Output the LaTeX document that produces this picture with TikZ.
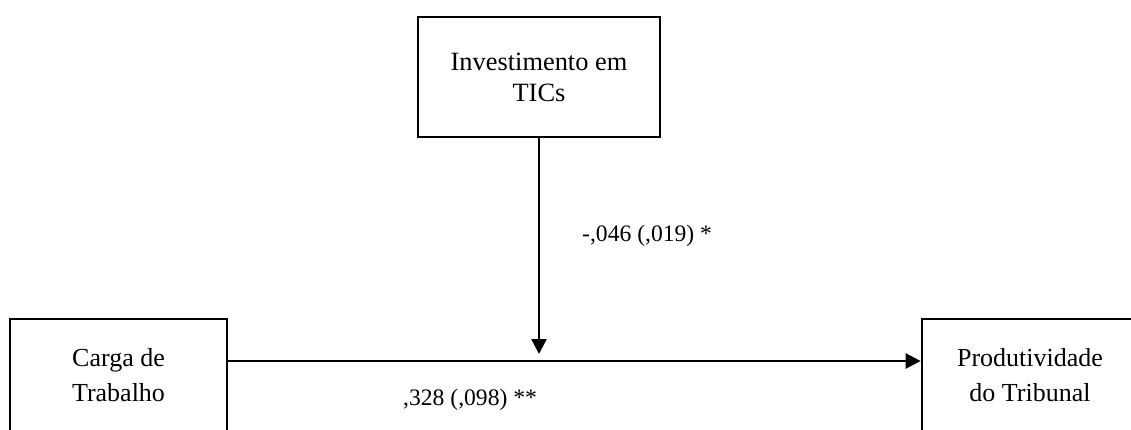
\documentclass[tikz,border=0pt]{standalone}
\usepackage{fontspec}
\setmainfont{Liberation Serif}
\usetikzlibrary{arrows.meta}
\tikzset{
  thinbox/.style={draw=black, line width=1.3pt, rectangle, align=center, inner sep=0pt,
    font=\fontsize{26.4}{31}\selectfont},
  thickbox/.style={draw=black, line width=2.7pt, rectangle, align=center, inner sep=0pt,
    font=\fontsize{26}{35}\selectfont},
  link/.style={line width=2.5pt, -{Triangle[length=15pt,width=15pt]}},
  coef/.style={anchor=base west, inner sep=0pt, font=\fontsize{23.6}{28}\selectfont}
}
\begin{document}
\begin{tikzpicture}[x=1pt, y=-1pt]
\clip (0,0) rectangle (1131,430);
\node[thinbox, minimum width=242pt, minimum height=120pt] (tic) at (539,77) {Investimento em\\TICs};
\node[thickbox, minimum width=217pt, minimum height=113pt] (carga) at (118.5,375.6) {Carga de\\Trabalho};
\node[thickbox, minimum width=216pt, minimum height=113pt] (prod) at (1030,375.6) {Produtividade\\do Tribunal};
\coordinate (h) at (0,361);
\coordinate (m) at (539,354);
\draw[link] (carga.east |- h) -- (prod.west |- h);
\draw[link] (tic.south) -- (m);
\node[coef] (c1) at (582,241) {-,046 (,019) *};
\node[coef] (c2) at (403,405) {,328 (,098) **};
\end{tikzpicture}
\end{document}
